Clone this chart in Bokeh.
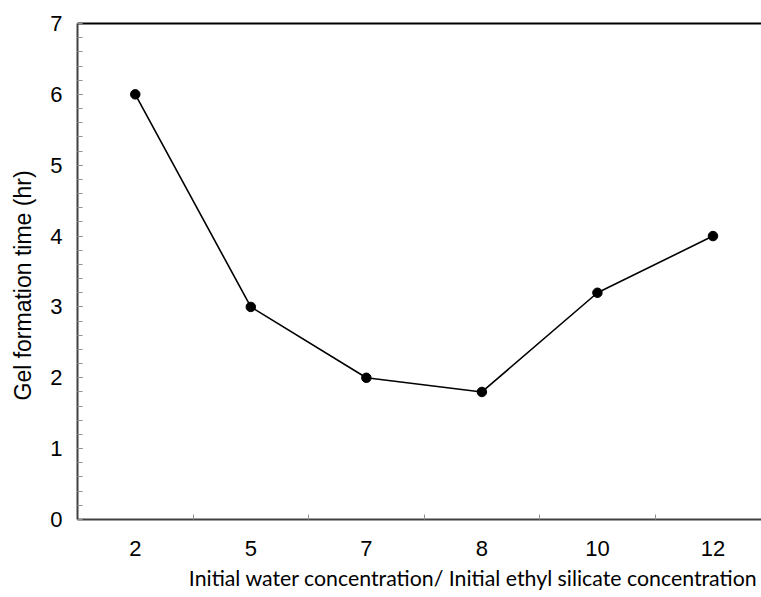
from bokeh.plotting import figure
from bokeh.models import Range1d, FixedTicker, SingleIntervalTicker, LinearAxis, Title
from bokeh.embed import file_html
from bokeh.resources import INLINE

categories = ["2", "5", "7", "8", "10", "12"]
gel_time = [6.0, 3.0, 2.0, 1.8, 3.2, 4.0]

xs = [i + 0.5 for i in range(len(categories))]
boundaries = [i for i in range(1, len(categories))]

p = figure(width=761, height=597, x_range=Range1d(0, 5.92), y_range=Range1d(0, 7),
           output_backend="svg", toolbar_location=None,
           x_axis_location=None, y_axis_location=None,
           min_border_left=77, min_border_right=0, min_border_top=23, min_border_bottom=78)
p.outline_line_color = None
p.xgrid.visible = False
p.ygrid.visible = False
p.background_fill_color = "white"
p.border_fill_color = "white"

AX = "#404040"
# y axis
ya = LinearAxis(ticker=SingleIntervalTicker(interval=1, num_minor_ticks=5))
ya.axis_line_color = AX
ya.axis_line_width = 2
ya.major_tick_in = 5
ya.major_tick_out = 0
ya.minor_tick_in = 5
ya.minor_tick_out = 0
ya.major_tick_line_color = "#606060"
ya.minor_tick_line_color = "#909090"
ya.major_label_text_font = "Liberation Sans"
ya.major_label_text_font_size = "22px"
ya.major_label_text_color = "black"
ya.major_label_standoff = 15
p.add_layout(ya, "left")

# x axis
xa = LinearAxis(ticker=FixedTicker(ticks=xs, minor_ticks=boundaries))
xa.major_label_overrides = {x: c for x, c in zip(xs, categories)}
xa.axis_line_color = AX
xa.axis_line_width = 2
xa.major_tick_in = 0
xa.major_tick_out = 0
xa.minor_tick_in = 5
xa.minor_tick_out = 0
xa.minor_tick_line_color = "#909090"
xa.major_label_text_font = "Liberation Sans"
xa.major_label_text_font_size = "22px"
xa.major_label_text_color = "black"
xa.major_label_standoff = 21
p.add_layout(xa, "below")

# top border
ta = LinearAxis(ticker=FixedTicker(ticks=[]))
ta.axis_line_color = "black"
ta.axis_line_width = 2
ta.major_tick_in = 0
ta.major_tick_out = 0
ta.minor_tick_in = 0
ta.minor_tick_out = 0
ta.major_label_text_font_size = "0px"
p.add_layout(ta, "above")

p.line(xs, gel_time, line_color="black", line_width=1.6)
p.scatter(xs, gel_time, size=9.5, fill_color="black", line_color="black")

p.add_layout(Title(text="Gel formation time (hr)", align="left", offset=119,
                   vertical_align="top", standoff=19,
                   text_font="Liberation Sans", text_font_size="23px",
                   text_font_style="normal", text_color="black"), "left")
p.add_layout(Title(text="Initial water concentration/ Initial ethyl silicate concentration",
                   align="right", offset=4, standoff=9,
                   text_font="Lato", text_font_size="21.3px",
                   text_font_style="normal", text_color="black"), "below")

open("out.html", "w").write(file_html(p, INLINE))
